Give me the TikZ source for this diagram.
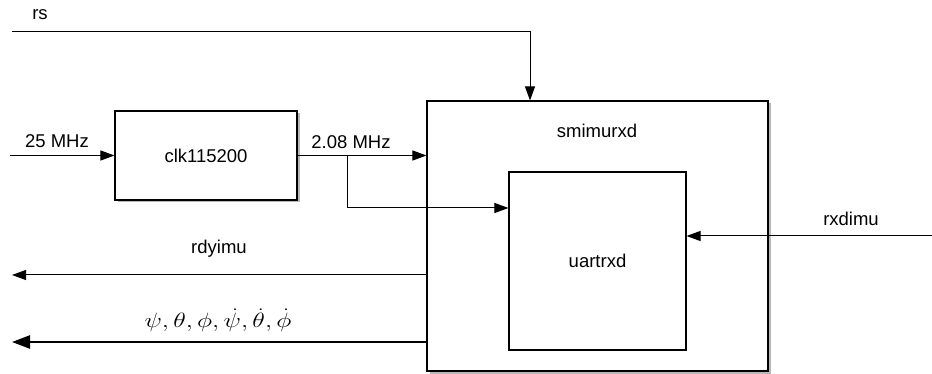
\documentclass[tikz,border=0pt]{standalone}
\usepackage{fontspec}
\setmainfont{Liberation Sans}
\usetikzlibrary{arrows.meta,shadows}
\begin{document}
\begin{tikzpicture}[x=1pt,y=-1pt,
  every node/.style={font=\fontsize{18.5}{22}\selectfont},
  box/.style={draw, line width=1.1pt, fill=white, inner sep=0pt},
  shbox/.style={box, drop shadow={shadow xshift=2.5pt, shadow yshift=-2.5pt, opacity=0.35, fill=black!80}},
  conn/.style={line width=1pt, -{Triangle[length=14pt,width=10pt]}},
  thickconn/.style={line width=2.4pt, -{Triangle[length=18pt,width=13pt]}},
  lbl/.style={inner sep=0pt}]
\useasboundingbox (0,0) rectangle (932,374);

% boxes
\node[shbox, minimum width=182pt, minimum height=89pt] (clk) at (206,155.5) {clk115200};
\node[shbox, minimum width=341pt, minimum height=270pt] (smi) at (597.5,236) {};
\node[lbl] (smil) at (597,131) {smimurxd};
\node[box, minimum width=177pt, minimum height=178pt] (uart) at (597.5,261) {uartrxd};

% free ends
\coordinate (in25) at (10,155.5);
\coordinate (br) at (347,155.5);
\coordinate (bry) at (0,208);
\coordinate (rsin) at (12,32);
\coordinate (rsx) at (530,0);
\coordinate (rxin) at (932,236);
\coordinate (rdyout) at (12,275);
\coordinate (angout) at (12,342);

% connectors
\draw[conn] (in25) -- (clk.west);
\draw[conn] (clk.east) -- (clk.east -| smi.west);
\draw[conn] (br) |- (uart.west |- bry);
\draw[conn] (rsin) -| (rsx |- smi.north);
\draw[conn] (rxin) -- (rxin -| uart.east);
\draw[conn] (smi.west |- rdyout) -- (rdyout);
\draw[thickconn] (smi.west |- angout) -- (angout);

% labels
\node[lbl] (lrs) at (40,15) {rs};
\node[lbl] (l25) at (57,141) {25 MHz};
\node[lbl] (l208) at (351,142) {2.08 MHz};
\node[lbl] (lrx) at (851,219) {rxdimu};
\node[lbl] (lrdy) at (219,249) {rdyimu};
\node[lbl] (lang) at (218,320) {\scalebox{1.25}[1]{\fontsize{21}{24}\selectfont$\psi, \theta, \phi, \dot{\psi}, \dot{\theta}, \dot{\phi}$}};
\end{tikzpicture}
\end{document}
